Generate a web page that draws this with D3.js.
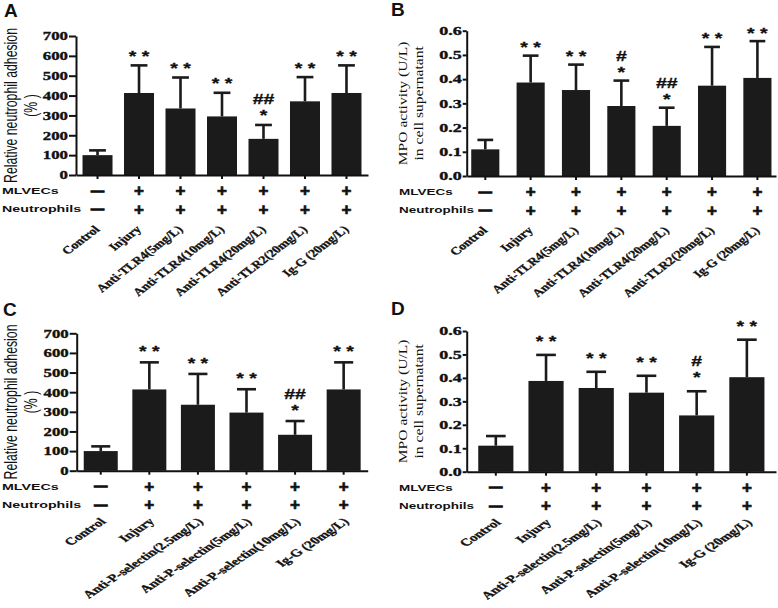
<!DOCTYPE html>
<html><head><meta charset="utf-8">
<script src="https://cdn.jsdelivr.net/npm/d3@7/dist/d3.min.js"></script>
<style>body{margin:0;background:#fff}svg{display:block}</style>
</head><body>
<script>
// ---------- data ----------
const catsTLR = ["Control","Injury","Anti-TLR4(5mg/L)","Anti-TLR4(10mg/L)","Anti-TLR4(20mg/L)","Anti-TLR2(20mg/L)","Ig-G (20mg/L)"];
const catsSel = ["Control","Injury","Anti-P-selectin(2.5mg/L)","Anti-P-selectin(5mg/L)","Anti-P-selectin(10mg/L)","Ig-G (20mg/L)"];
const mlvecsTLR = ["—","+","+","+","+","+","+"];
const neutroTLR = ["—","+","+","+","+","+","+"];
const mlvecsSel = ["—","+","+","+","+","+"];
const neutroSel = ["—","+","+","+","+","+"];

const adhesionTicks = [0,100,200,300,400,500,600,700];
const mpoTicks = [0,0.1,0.2,0.3,0.4,0.5,0.6];

const valuesA = [100, 413, 335, 295, 182, 371, 413];
const sdA     = [24, 139, 156, 119, 70, 122, 139];
const signifA = [[], ["* *"], ["* *"], ["* *"], ["*","##"], ["* *"], ["* *"]];

const valuesB = [0.110, 0.386, 0.355, 0.289, 0.207, 0.373, 0.405];
const sdB     = [0.039, 0.111, 0.105, 0.105, 0.075, 0.160, 0.152];
const signifB = [[], ["* *"], ["* *"], ["*","#"], ["*","##"], ["* *"], ["* *"]];

const valuesC = [100, 414, 336, 296, 183, 414];
const sdC     = [24, 138, 157, 119, 70, 138];
const signifC = [[], ["* *"], ["* *"], ["* *"], ["*","##"], ["* *"]];

const valuesD = [0.111, 0.387, 0.357, 0.337, 0.240, 0.403];
const sdD     = [0.041, 0.111, 0.069, 0.072, 0.103, 0.160];
const signifD = [[], ["* *"], ["* *"], ["* *"], ["*","#"], ["* *"]];

const yTitleAdhesion = ["Relative neutrophil adhesion", "(% )"];
const yTitleMPO = ["MPO activity (U/L)", "in cell supernatant"];

// ---------- drawing ----------
const W = 778, H = 608;
const svg = d3.select("body").append("svg").attr("width", W).attr("height", H);
const INK = "#1b1b1b";
const SERIF = "'Liberation Serif','Times New Roman',serif";
const SANS = "'Liberation Sans',Arial,sans-serif";

function panel(o) {
  const g = svg.append("g");
  const x = d3.scaleBand().domain(o.cats).range(o.xr).paddingInner(o.pin).paddingOuter(o.pout);
  const y = d3.scaleLinear().domain([0, o.ticks[o.ticks.length-1]]).range(o.yr);

  // bars
  g.selectAll("rect.bar").data(o.values).join("rect")
    .attr("x", (d,i) => x(o.cats[i])).attr("width", x.bandwidth())
    .attr("y", d => y(d)).attr("height", d => y(0) - y(d)).attr("fill", INK);

  // error bars
  const capW = x.bandwidth() * 0.56;
  o.values.forEach((v,i) => {
    const cx = x(o.cats[i]) + x.bandwidth()/2;
    const top = y(v + o.sd[i]);
    g.append("line").attr("x1",cx).attr("x2",cx).attr("y1",y(v)).attr("y2",top)
      .attr("stroke",INK).attr("stroke-width",2.6);
    g.append("line").attr("x1",cx-capW/2).attr("x2",cx+capW/2).attr("y1",top).attr("y2",top)
      .attr("stroke",INK).attr("stroke-width",2.6);
    // significance marks
    o.signif[i].forEach((s,k) => {
      const cy = top - o.gap - k*13;
      const off = s.indexOf("#") >= 0 ? 5.4 : 8.4;
      g.append("text").attr("transform",`translate(${cx},${cy+off}) scale(1.3,1)`)
        .attr("text-anchor","middle").attr("font-family",SANS).attr("font-weight","bold")
        .attr("font-size",15).attr("fill","#111").attr("stroke","#111").attr("stroke-width",0.3).text(s);
    });
  });

  // y axis
  const ya = g.append("g").attr("transform",`translate(${o.xr[0]},0)`)
    .call(d3.axisLeft(y).tickValues(o.ticks).tickSize(o.tickLen).tickSizeOuter(0).tickPadding(1)
      .tickFormat(o.fmt));
  ya.select(".domain").attr("stroke","#111").attr("stroke-width",2);
  ya.selectAll(".tick line").attr("stroke","#111").attr("stroke-width",2);
  ya.selectAll(".tick text").each(function(){
    const t = d3.select(this);
    const xx = +t.attr("x");
    t.attr("x", xx/o.tsx).attr("transform",`scale(${o.tsx},1)`)
      .attr("font-family",SERIF).attr("font-weight","bold").attr("font-size",12)
      .attr("fill","#111").attr("stroke","#111").attr("stroke-width",0.35);
  });

  // x axis
  const xa = g.append("g").attr("transform",`translate(0,${o.yr[0]})`)
    .call(d3.axisBottom(x).tickSize(4).tickSizeOuter(0).tickFormat(""));
  xa.select(".domain").attr("stroke","#111").attr("stroke-width",2);
  xa.selectAll(".tick line").attr("stroke","#111").attr("stroke-width",2);

  // rows MLVECs / Neutrophils
  const rows = [["MLVECs", o.mlvecs, 15.5], ["Neutrophils", o.neutro, 34]];
  rows.forEach(([lab, syms, dy]) => {
    const ry = o.yr[0] + dy;
    g.append("text").attr("transform",`translate(${o.rowX},${ry+3.4}) scale(${o.rowSx},1)`)
      .attr("font-family",SANS).attr("font-weight","bold").attr("font-size",9.5).attr("fill","#111").text(lab);
    syms.forEach((s,i) => {
      const cx = x(o.cats[i]) + x.bandwidth()/2;
      const t = g.append("text").attr("x",cx).attr("text-anchor","middle")
        .attr("font-family",SANS).attr("font-weight","bold").attr("fill","#111").attr("stroke","#111");
      if (s === "+") t.attr("y", ry+5.5).attr("font-size",17).attr("stroke-width",0.7).text(s);
      else t.attr("y", ry+4).attr("font-size",13).attr("stroke-width",1.2).text(s);
    });
  });

  // category labels
  o.cats.forEach((c,i) => {
    const cx = x(c) + x.bandwidth()/2;
    g.append("text")
      .attr("transform",`translate(${cx+o.labDx},${o.yr[0]+o.labDy}) scale(${o.labSx},1) rotate(-45)`)
      .attr("text-anchor","end").attr("font-family",SERIF).attr("font-weight","bold")
      .attr("font-size",o.labFs).attr("fill","#111").attr("stroke","#111").attr("stroke-width",0.3).text(c);
  });

  // y title
  const cy = (o.yr[0] + o.yr[1]) / 2;
  o.title.forEach((t,k) => {
    g.append("text")
      .attr("transform",`translate(${o.titleX[k]},${cy}) rotate(-90) scale(${o.titleScale[0]},${o.titleScale[1]})`)
      .attr("text-anchor","middle").attr("dominant-baseline","central")
      .attr("font-family",o.titleFont).attr("font-size",o.titleSize).attr("fill","#111").text(t);
  });

  // panel letter
  g.append("text").attr("x",o.letter[1]).attr("y",o.letter[2])
    .attr("font-family",SANS).attr("font-weight","bold").attr("font-size",19).attr("fill","#111").text(o.letter[0]);
}

const fmtInt = d3.format("d"), fmt1 = d3.format(".1f");

panel({cats:catsTLR, values:valuesA, sd:sdA, signif:signifA, mlvecs:mlvecsTLR, neutro:neutroTLR,
  xr:[76,368], yr:[175,36], pin:0.277, pout:0.157, ticks:adhesionTicks, fmt:fmtInt, tickLen:7, tsx:1.4,
  gap:13, rowX:2, rowSx:1.5, labDx:3, labDy:55, labSx:1.3, labFs:10.8,
  title:yTitleAdhesion, titleX:[11,31], titleScale:[1,1.45], titleFont:SANS, titleSize:12.3,
  letter:["A",4,17]});

panel({cats:catsTLR, values:valuesB, sd:sdB, signif:signifB, mlvecs:mlvecsTLR, neutro:neutroTLR,
  xr:[466.7,776], yr:[176,30.7], pin:0.38, pout:0.1, ticks:mpoTicks, fmt:fmt1, tickLen:4, tsx:1.5,
  gap:12, rowX:399, rowSx:1.42, labDx:3, labDy:55, labSx:1.3, labFs:10.8,
  title:yTitleMPO, titleX:[403,419], titleScale:[1.3,1], titleFont:SERIF, titleSize:12,
  letter:["B",391,15.5]});

panel({cats:catsSel, values:valuesC, sd:sdC, signif:signifC, mlvecs:mlvecsSel, neutro:neutroSel,
  xr:[76.7,367.7], yr:[470.7,333.3], pin:0.3, pout:0.145, ticks:adhesionTicks, fmt:fmtInt, tickLen:7, tsx:1.4,
  gap:14.4, rowX:2, rowSx:1.5, labDx:6, labDy:51.5, labSx:1.5, labFs:10.3,
  title:yTitleAdhesion, titleX:[11,31], titleScale:[1,1.45], titleFont:SANS, titleSize:12.3,
  letter:["C",3,315.5]});

panel({cats:catsSel, values:valuesD, sd:sdD, signif:signifD, mlvecs:mlvecsSel, neutro:neutroSel,
  xr:[466.7,776], yr:[471.7,331], pin:0.3, pout:0.23, ticks:mpoTicks, fmt:fmt1, tickLen:4, tsx:1.5,
  gap:17.5, rowX:399, rowSx:1.42, labDx:6, labDy:51.5, labSx:1.5, labFs:10.3,
  title:yTitleMPO, titleX:[403,419], titleScale:[1.3,1], titleFont:SERIF, titleSize:12,
  letter:["D",391,314.5]});
</script>
</body></html>
